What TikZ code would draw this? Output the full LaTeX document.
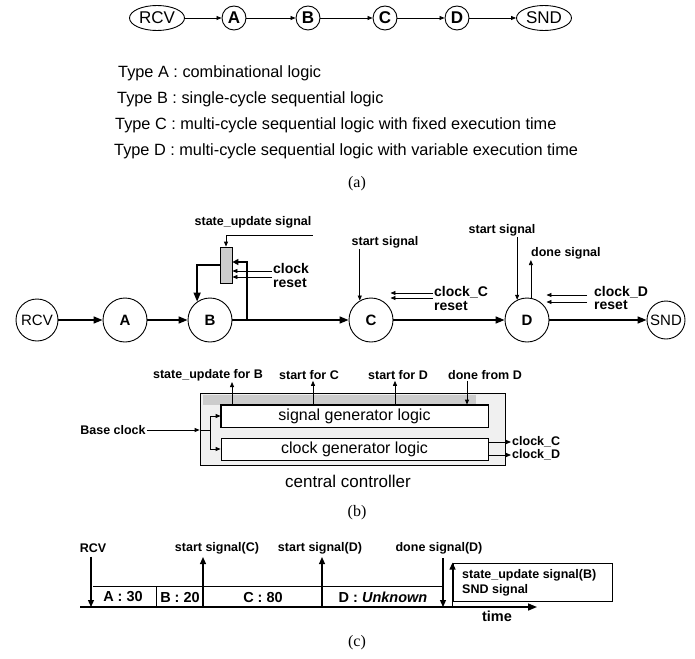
\documentclass[tikz,border=0pt]{standalone}
\usepackage{fontspec}
\setmainfont{Liberation Serif}
\setsansfont{Liberation Sans}
\usetikzlibrary{arrows.meta,shapes.geometric}

\newcommand{\fs}[1]{\fontsize{#1}{#1}\selectfont}

\begin{document}
\begin{tikzpicture}[x=1pt,y=-1pt,
  unit/.style={circle,draw,line width=0.9pt,minimum size=24pt,inner sep=0pt,font=\sffamily\bfseries\fs{17}},
  oval/.style={ellipse,draw,line width=0.9pt,minimum width=55pt,minimum height=25pt,inner sep=0pt,font=\sffamily\fs{17}},
  blk/.style={circle,draw,line width=0.9pt,minimum size=44pt,inner sep=0pt,font=\sffamily\bfseries\fs{15}},
  io/.style={circle,draw,line width=0.9pt,minimum size=42pt,inner sep=0pt,font=\sffamily\fs{15}},
  reg/.style={rectangle,draw,line width=0.8pt,fill=gray!40,minimum width=12pt,minimum height=36pt,inner sep=0pt},
  logic/.style={rectangle,draw,line width=0.8pt,fill=white,minimum width=267pt,minimum height=22pt,inner sep=0pt,font=\sffamily\fs{16}},
  lbl/.style={font=\sffamily\bfseries\fs{12.5},inner sep=1pt},
  big lbl/.style={font=\sffamily\bfseries\fs{14},inner sep=1pt},
  seg/.style={font=\sffamily\bfseries\fs{14.5},inner sep=1pt},
  txt/.style={font=\sffamily\fs{16.3},inner sep=1pt},
  captxt/.style={font=\rmfamily\fs{16}},
  thin arrow/.style={line width=0.8pt,-{Triangle[length=5pt,width=4pt]}},
  bold arrow/.style={line width=1.5pt,-{Triangle[length=9pt,width=7pt]}},
  time arrow/.style={line width=1.2pt,-{Triangle[length=7pt,width=6pt]}}]

\useasboundingbox (0,0) rectangle (695,658);

% (a) pipeline and types
\node[oval] (rcv1) at (157,18) {RCV};
\node[unit] (a1) at (234,18) {A};
\node[unit] (b1) at (308,18) {B};
\node[unit] (c1) at (385,18) {C};
\node[unit] (d1) at (457,18) {D};
\node[oval] (snd1) at (544,18) {SND};
\foreach \u/\v in {rcv1/a1,a1/b1,b1/c1,c1/d1,d1/snd1}
  \draw[thin arrow] (\u) -- (\v);

\node[txt,anchor=west] (ta) at (117,73) {Type A : combinational logic};
\node[txt,anchor=west] (tb) at (116,99) {Type B : single-cycle sequential logic};
\node[txt,anchor=west] (tc) at (114,125) {Type C : multi-cycle sequential logic with fixed execution time};
\node[txt,anchor=west] (td) at (113,151) {Type D : multi-cycle sequential logic with variable execution time};
\node[captxt] (capa) at (357,184) {(a)};

% (b) datapath
\node[io] (rcv2) at (37,320) {RCV};
\node[blk] (a2) at (125,320) {A};
\node[blk] (b2) at (210,320) {B};
\node[blk] (c2) at (371,320) {C};
\node[blk] (d2) at (527,320) {D};
\node[io,minimum size=38pt] (snd2) at (666,320) {SND};
\foreach \u/\v in {rcv2/a2,a2/b2,b2/c2,c2/d2,d2/snd2}
  \draw[bold arrow] (\u) -- (\v);

% state register of B
\node[reg] (reg) at (226,265) {};
\coordinate (fb) at (247,320);
\draw[line width=1.5pt,-{Triangle[length=6pt,width=6pt]}] (fb) |- ([yshift=3pt]reg.east);
\draw[bold arrow] (reg.west) -| (b2.125);
\node[lbl] (su) at (253,222) {state\_update signal};
\draw[thin arrow] ([yshift=-6pt]su.south east) -| (reg.north);
\node[big lbl,anchor=west] (clk) at (272,268) {clock};
\node[big lbl,anchor=west] (rst) at (272,283) {reset};
\draw[thin arrow] ([yshift=-3pt]clk.west) -- ([yshift=-3pt]clk.west -| reg.east);
\draw[thin arrow] ([yshift=6pt]rst.west) -- ([yshift=6pt]rst.west -| reg.east);

% C and D control
\node[lbl] (sc) at (385,242) {start signal};
\draw[thin arrow] (c2.120 |- sc.south) -- (c2.120);
\node[big lbl,anchor=west] (ckc) at (433,292) {clock\_C};
\node[big lbl,anchor=west] (rsc) at (433,306) {reset};
\draw[thin arrow] ([yshift=-1pt]ckc.west) -- ([yshift=-1pt]ckc.west -| c2.30);
\draw[thin arrow] ([yshift=8pt]rsc.west) -- ([yshift=8pt]rsc.west -| c2.30);

\node[lbl] (sd) at (502,230) {start signal};
\draw[thin arrow] (d2.116 |- sd.south) -- (d2.116);
\node[lbl,anchor=west] (dn) at (530,253) {done signal};
\draw[thin arrow] (d2.80) -- (d2.80 |- dn.south);
\node[big lbl,anchor=west] (ckd) at (593,292) {clock\_D};
\node[big lbl,anchor=west] (rsd) at (593,305) {reset};
\draw[thin arrow] ([xshift=-6pt,yshift=-3pt]ckd.west) -- ([yshift=-3pt]ckd.west -| d2.30);
\draw[thin arrow] ([xshift=-6pt,yshift=3pt]rsd.west) -- ([yshift=3pt]rsd.west -| d2.30);

% central controller
\node[draw,line width=0.8pt,fill=gray!12,minimum width=305pt,minimum height=72pt,inner sep=0pt] (cc) at (352.5,429) {};
\node[logic] (sig) at (354.5,416) {signal generator logic};
\node[logic] (clkg) at (354.5,449) {clock generator logic};
\fill[gray!40] ([shift={(3pt,-2pt)}]cc.north west) rectangle ([xshift=-12pt]sig.north east);
\draw[line width=0.8pt] (sig.north west) rectangle (sig.south east);
\node[txt,font=\sffamily\fs{17}] (ccl) at (348,481) {central controller};

\node[lbl] (bck) at (113,430) {Base clock};
\coordinate (jn) at (210,430);
\draw[thin arrow] (bck.east) -- (bck.east -| cc.west);
\draw[line width=0.8pt] (bck.east -| cc.west) -- (jn);
\draw[thin arrow] (jn) |- (sig.west);
\draw[thin arrow] (jn) |- (clkg.west);

\node[lbl,anchor=west] (oc) at (511,442) {clock\_C};
\node[lbl,anchor=west] (od) at (511,455) {clock\_D};
\draw[thin arrow] (oc.west -| clkg.east) -- (oc.west);
\draw[thin arrow] (od.west -| clkg.east) -- (od.west);

\node[lbl] (usb) at (208,375) {state\_update for B};
\node[lbl] (scc) at (309,375) {start for C};
\node[lbl] (sdd) at (398,375) {start for D};
\node[lbl] (dfd) at (485,375) {done from D};
\draw[thin arrow] ([xshift=24pt]usb.south |- sig.north) -- ([xshift=24pt]usb.south);
\draw[thin arrow] ([xshift=4pt]scc.south |- sig.north) -- ([xshift=4pt]scc.south);
\draw[thin arrow] ([xshift=-3pt]sdd.south |- sig.north) -- ([xshift=-3pt]sdd.south);
\draw[thin arrow] ([xshift=-18pt]dfd.south) -- ([xshift=-18pt]dfd.south |- sig.north);
\node[captxt] (capb) at (357,513) {(b)};

% (c) timing
\coordinate (t0) at (80,607);
\coordinate (t1) at (537,607);
\draw[line width=1.5pt,-{Triangle[length=9pt,width=7pt]}] (t0) -- (t1);
\draw[line width=0.9pt] (93,586) -- (443,586);
\draw[line width=0.9pt] (156,586) -- (156,607);

\node[lbl] (rcv3) at (93,548) {RCV};
\node[lbl] (ssc) at (217,548) {start signal(C)};
\node[lbl] (ssd) at (320,548) {start signal(D)};
\node[lbl] (dsd) at (439,548) {done signal(D)};
\coordinate (xa) at (91,607);
\coordinate (xc) at (203,607);
\coordinate (xd) at (322,607);
\coordinate (xe) at (443,607);
\draw[time arrow] ([yshift=-3pt]xa |- rcv3.south) -- (xa);
\draw[time arrow] (xc) -- ([yshift=-2pt]xc |- ssc.south);
\draw[time arrow] (xd) -- ([yshift=-2pt]xd |- ssd.south);
\draw[time arrow] ([yshift=-3pt]xe |- dsd.south) -- (xe);

\node[draw,line width=0.9pt,minimum width=159pt,minimum height=38pt,inner sep=0pt] (ub) at (532.5,582) {};
\draw[time arrow] (ub.south west |- t0) -- (ub.north west);
\node[lbl,anchor=west] (ubt) at (461,575) {state\_update signal(B)};
\node[lbl,anchor=west] (snt) at (461,590) {SND signal};

\node[seg] (sa) at (123,597) {A : 30};
\node[seg] (sb) at (180,597) {B : 20};
\node[seg] (sgc) at (263,597) {C : 80};
\node[seg] (sgd) at (383,597) {D : \textit{Unknown}};
\node[seg] (tm) at (497,616) {time};
\node[captxt] (capc) at (357,643) {(c)};
\end{tikzpicture}
\end{document}
